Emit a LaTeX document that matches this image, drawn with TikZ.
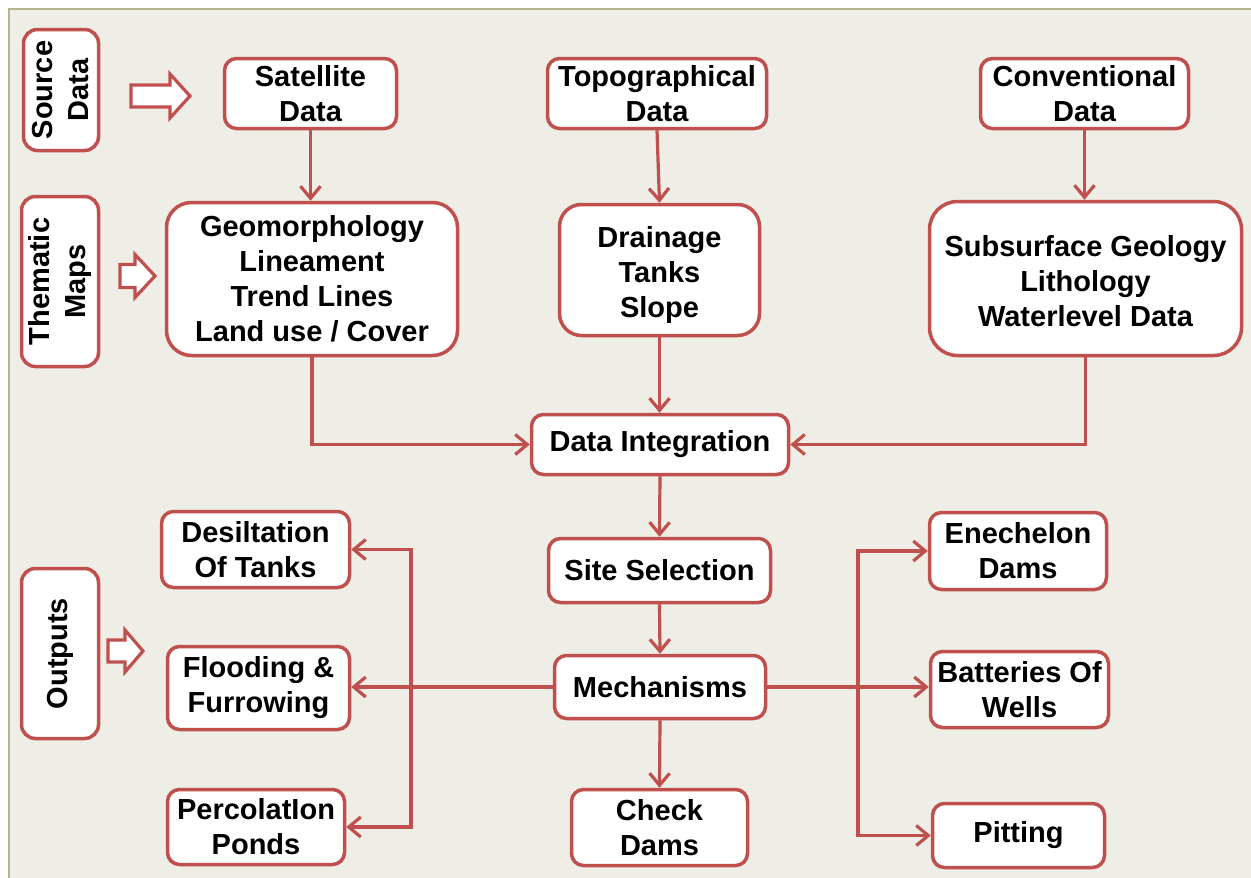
\documentclass[tikz,border=0pt]{standalone}
\usepackage{fontspec}
\setmainfont{Liberation Sans}
\usetikzlibrary{arrows.meta}
\definecolor{bred}{RGB}{192,80,77}
\definecolor{bgc}{RGB}{238,237,230}
\definecolor{framec}{RGB}{182,178,140}
\begin{document}
\begin{tikzpicture}[x=1pt,y=-1pt,
  box/.style={draw=bred, line width=3.5pt, fill=white, rounded corners=12pt,
    align=center, inner sep=0pt, font=\fontsize{29}{35}\selectfont\bfseries},
  bigbox/.style={box, rounded corners=25pt},
  sidebox/.style={box, rounded corners=14pt},
  sidetext/.style={rotate=90, align=center, inner sep=0pt,
    font=\fontsize{29}{36}\selectfont\bfseries},
  conn/.style={draw=bred, line width=3.2pt, line join=miter,
    -{Straight Barb[length=12pt,width=20pt]}},
  blockarrow/.style={draw=bred, fill=white, line width=3.2pt, line join=miter}
]
\useasboundingbox (0,0) rectangle (1251,878);
\fill[white] (0,0) rectangle (1251,878);
\fill[bgc] (9,9) rectangle (1251,878);
\draw[framec, line width=2.5pt] (9,878) -- (9,9) -- (1251,9);

% side labels
\node[sidebox, minimum width=75pt, minimum height=121pt] (srcd) at (61,90) {};
\node[sidetext] (srcdt) at (srcd) {Source\\Data};
\node[sidebox, minimum width=77pt, minimum height=170pt] (them) at (60,281.5) {};
\node[sidetext] (themt) at (them) {Thematic\\Maps};
\node[sidebox, minimum width=77pt, minimum height=170pt] (outp) at (60,653.5) {};
\node[sidetext] (outpt) at (outp) {Outputs};

% hollow block arrows
\draw[blockarrow] (131,85) -- (170,85) -- (170,74) -- (190,96) -- (170,118) -- (170,107) -- (131,107) -- cycle;
\draw[blockarrow] (120,264.5) -- (135,264.5) -- (135,254.5) -- (155,276) -- (135,297.5) -- (135,287.5) -- (120,287.5) -- cycle;
\draw[blockarrow] (108,640) -- (125,640) -- (125,630) -- (143,651) -- (125,672) -- (125,662) -- (108,662) -- cycle;

% top row
\node[box, minimum width=172pt, minimum height=70pt] (sat) at (310.5,93.5) {Satellite\\Data};
\node[box, minimum width=219pt, minimum height=70pt] (topo) at (657,93.5) {Topographical\\Data};
\node[box, minimum width=208pt, minimum height=70pt] (conv) at (1084.5,93.5) {Conventional\\Data};

% thematic row
\node[bigbox, minimum width=291pt, minimum height=153pt] (geo) at (312,279) {Geomorphology\\Lineament\\Trend Lines\\Land use / Cover};
\node[bigbox, rounded corners=22pt, minimum width=200pt, minimum height=131pt] (drain) at (659.5,270) {};
\node[align=center, inner sep=0pt, font=\fontsize{29}{35}\selectfont\bfseries] (draint) at ([yshift=-5pt]drain.center) {Drainage\\Tanks\\Slope};
\node[bigbox, rounded corners=28pt, minimum width=312pt, minimum height=154pt] (subs) at (1085.5,278.5) {};
\node[align=center, inner sep=0pt, font=\fontsize{29}{35}\selectfont\bfseries] (subst) at ([yshift=-3pt]subs.center) {Subsurface Geology\\Lithology\\Waterlevel Data};

% centre column
\node[box, minimum width=257pt, minimum height=60pt] (dint) at (660,444.5) {Data Integration};
\node[box, minimum width=222pt, minimum height=64pt] (site) at (659.5,570.5) {Site Selection};
\node[box, minimum width=211pt, minimum height=63pt] (mech) at (660,687) {Mechanisms};
\node[box, minimum width=176pt, minimum height=76pt] (check) at (659.5,827.5) {Check\\Dams};

% left outputs
\node[box, minimum width=188pt, minimum height=76pt] (desil) at (255.5,549.5) {Desiltation\\Of Tanks};
\node[box, minimum width=182pt, minimum height=83pt] (flood) at (258.5,688) {Flooding \&\\Furrowing};
\node[box, minimum width=177pt, minimum height=75pt] (perc) at (256,827) {PercolatIon\\Ponds};

% right outputs
\node[box, minimum width=177pt, minimum height=77pt] (ene) at (1018,551) {Enechelon\\Dams};
\node[box, minimum width=178pt, minimum height=76pt] (batt) at (1019.5,689.5) {Batteries Of\\Wells};
\node[box, minimum width=172pt, minimum height=64pt] (pit) at (1018.5,835.5) {Pitting};

% connectors
\draw[conn] (sat.south) -- (sat.south |- geo.north);
\draw[conn] (topo.south) -- (drain.north);
\draw[conn] (conv.south) -- (conv.south |- subs.north);
\draw[conn] (geo.south) |- (dint.west);
\draw[conn] (drain.south) -- (drain.south |- dint.north);
\draw[conn] (subs.south) |- (dint.east);
\draw[conn] (dint.south) -- (site.north);
\draw[conn] (site.south) -- (mech.north);
\draw[conn] (mech.south) -- (check.north);

\draw[conn] (mech.west) -- (mech.west -| flood.east);
\coordinate (lb) at (411,687);
\draw[conn] (lb) |- (desil.east);
\draw[conn] (lb) |- (perc.east);

\draw[conn] (mech.east) -- (mech.east -| batt.west);
\coordinate (rb) at (858,687);
\draw[conn] (rb) |- (ene.west);
\draw[conn] (rb) |- (pit.west);
\end{tikzpicture}
\end{document}
